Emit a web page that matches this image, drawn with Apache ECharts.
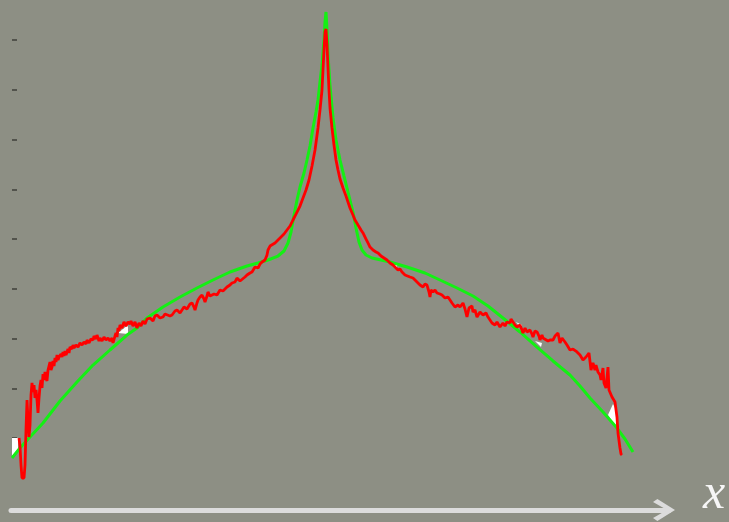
<!DOCTYPE html>
<html><head><meta charset="utf-8">
<script src="https://cdn.jsdelivr.net/npm/echarts@6/dist/echarts.min.js"></script>
<style>html,body{margin:0;padding:0;background:#8d8f84;}#c{width:729px;height:522px;}</style>
</head><body><div id="c"></div>
<script>
const yTicks = [0, 10, 20, 30, 40, 50, 60, 70, 80];
const axisName = 'x';

const greenCurve = [
[-104.33,-4.02],[-101.67,-2.01],[-98.33,0.20],[-94,3.02],[-88.33,7.44],[-82.67,11.26],[-77.33,14.67],[-71.67,17.69],
[-66,20.70],[-62.67,22.11],[-59.33,24.12],[-54,26.33],[-48.33,28.34],[-42.67,30.15],[-37.33,31.76],[-31.67,33.37],
[-26,34.57],[-22.33,35.18],[-19,35.78],[-15.67,36.58],[-13.67,37.59],[-12.33,39.20],[-11.33,41.41],[-10.33,44.82],
[-9.33,47.84],[-8.33,50.45],[-7,53.27],[-6,55.88],[-5,58.69],[-4,62.31],[-3,65.53],[-2.33,67.94],[-1.67,71.56],
[-1,74.97],[-0.33,79.99],[0,83.61],[0.33,85.63],
[0.67,82.01],[1,77.0],[1.67,70.95],[2.67,64.32],[3.67,59.90],[5,55.88],[6.33,52.66],[7.33,50.25],[8.33,47.84],
[9.33,45.43],[10.33,42.21],[11.33,39.40],[12.33,37.79],[13.67,36.78],[15.67,36.18],[21.67,35.38],[27.33,34.37],
[33.33,33.17],[38.33,31.76],[44,30.15],[49.33,28.54],[54.33,26.53],[59.33,24.12],[65,21.31],[70.67,18.29],
[76,15.48],[81.67,12.66],[85,10.45],[88.33,8.04],[92.67,5.23],[97.33,2.01],[100,-0.20],[102.67,-2.81]
];

const redCurve = [
[-102,0],[-101.67,-1.61],[-101.33,-5.43],[-101,-8.04],[-100.33,-8.04],[-100,-5.43],[-99.67,1.61],[-99.33,7.64],
[-99,3.62],[-98.67,0.2],[-98.33,2.61],[-98,8.64],[-97.67,11.06],[-97.33,9.25],[-97,10.65],[-96.67,8.04],[-96.33,9.65],
[-96,7.64],[-95.67,5.03],[-95.33,8.04],[-95,10.45],[-94.67,11.66],[-94.33,10.05],[-94,12.86],[-93.67,11.66],
[-93.33,13.27],[-93,12.06],[-92.67,11.46],[-92.33,13.67],[-92,14.47],[-91.67,15.28],[-91.33,13.67],[-91,14.27],
[-90.67,15.48],[-90.33,14.47],[-90,16.08],[-89.67,15.28],[-89.33,16.68],[-89,15.68],[-88.67,16.28],[-88.33,15.88],
[-88,16.88],[-87.67,16.28],[-87.33,17.29],[-87,16.48],[-86.67,17.49],[-86.33,16.68],[-86,17.29],[-85.67,17.89],
[-85.33,17.09],[-85,18.29],[-84.33,17.89],[-84,18.69],[-83.67,18.09],[-83,18.69],[-82.33,18.29],[-81.67,19.10],
[-81,18.69],[-80.33,19.30],[-79.67,18.89],[-79.33,19.70],[-78.67,19.10],[-78,19.90],[-77.33,19.70],[-77,20.50],
[-76.33,19.90],[-76,20.70],[-75.33,19.50],[-75,20.10],[-74.33,19.50],[-73.67,20.30],[-73,19.70],[-72.33,20.10],
[-71.67,19.50],[-71,20.10],[-70.67,19.10],[-70,20.50],[-69.67,21.11],[-69.33,20.30],[-69,22.11],[-68.67,21.51],
[-68.33,22.71],[-67.67,22.11],[-67,23.32],[-66.33,22.51],[-65.67,23.32],[-65,22.91],[-64.67,23.52],[-64,22.51],
[-63.33,23.32],[-62.67,22.11],[-62,23.12],[-61.33,22.51],[-60.67,23.52],[-60,22.91],[-59.33,23.92],[-58.33,24.12],
[-57.33,23.52],[-56.67,24.52],[-56,24.72],[-55,24.12],[-54,24.32],[-53.33,24.92],[-52.67,25.13],[-51.67,24.52],
[-51,24.72],[-50,25.53],[-49.33,25.73],[-48.33,25.13],[-47.67,25.33],[-47,26.33],[-46.67,26.73],[-46,25.93],
[-45.67,26.13],[-45,26.93],[-44.33,27.14],[-43.67,26.33],[-43.33,25.73],[-42.67,27.14],[-42.33,27.74],[-41.67,28.34],
[-41,28.74],[-40.33,27.94],[-40,27.34],[-39.33,28.54],[-39,29.35],[-38.33,28.54],[-37.67,28.34],[-37,28.94],
[-36,28.74],[-35,29.75],[-34,29.55],[-32.67,30.35],[-31.67,30.75],[-31,31.16],[-30,31.36],[-29.33,32.16],
[-28.33,31.56],[-27.67,31.76],[-26.67,32.36],[-26,32.76],[-25,33.17],[-24.33,33.37],[-23.67,33.77],[-23.33,34.37],
[-22.33,34.17],[-21.67,34.97],[-21,35.38],[-20,35.78],[-19.33,36.78],[-19,37.79],[-18.33,38.59],[-17.67,38.79],
[-16.67,39.20],[-15.67,39.80],[-14.67,40.40],[-13.67,41.00],[-12.67,41.81],[-11.67,42.61],[-10.67,43.82],[-9.67,45.02],
[-8.33,46.63],[-7.33,48.24],[-6.33,49.85],[-5.33,51.86],[-4.33,54.67],[-3.33,57.89],[-2.33,62.31],[-1.67,65.93],
[-1,69.95],[-0.67,73.97],[-0.33,77.99],[0,81.61],[0.33,82.21],[0.67,78.99],[1,74.37],[1.33,69.95],[1.67,66.33],
[2.33,62.31],[3,58.89],[3.67,55.88],[4.33,53.87],[5,52.06],[6,50.25],[7,48.64],[8.33,46.23],[9.33,44.82],[10,43.82],
[11,42.81],[12,41.81],[12.67,41.21],[13.67,40.00],[14.33,39.20],[15,38.39],[16,37.79],[17,37.39],[17.67,37.19],
[18.67,36.58],[19.33,36.18],[20.67,35.78],[21.67,35.18],[22.67,34.77],[23.33,34.37],[24.33,33.77],[25,33.97],
[25.67,33.37],[26.67,32.76],[27.33,32.96],[28.33,32.36],[29.33,32.16],[30,31.76],[31,31.16],[31.67,30.75],
[32.67,30.35],[33.33,30.95],[34,30.75],[34.67,29.35],[35,28.34],[35.33,29.75],[36,29.35],[36.67,29.75],[37.33,29.15],
[38.33,28.94],[39,28.74],[40,28.14],[41,28.34],[41.67,27.74],[42.33,27.14],[43.33,26.33],[44.33,26.73],[45,26.33],
[46,27.14],[46.67,25.93],[47.33,24.32],[48,26.13],[48.33,25.73],[49,26.53],[49.33,25.33],[50,25.73],[50.67,24.32],
[51.67,25.33],[52.67,24.72],[53.67,25.13],[54.33,24.32],[55,23.72],[55.67,23.12],[56.67,22.71],[57.33,23.32],
[58.33,22.31],[59.33,23.12],[60,22.51],[60.67,23.32],[61.67,23.12],[62,23.92],[62.67,23.32],[63.33,22.71],[64,22.31],
[65,22.71],[65.67,21.71],[66,21.11],[66.67,22.11],[67.33,21.31],[68.33,21.71],[69,20.90],[69.33,20.30],[70,21.51],
[70.67,21.31],[71.33,20.50],[71.67,19.70],[72.33,20.70],[72.67,20.10],[73.33,20.50],[74.33,19.50],[75,19.70],
[76,19.70],[76.67,20.50],[77.33,20.30],[77.67,21.11],[78.33,19.10],[79,20.10],[79.33,19.70],[80,19.30],[80.67,18.69],
[81.67,17.69],[82.67,17.89],[83.33,17.49],[84,17.29],[85,16.68],[86,15.68],[87,16.28],[88,17.09],[88.67,13.67],
[89.33,15.08],[90,13.67],[90.33,14.67],[91,13.27],[91.67,12.66],[92,11.66],[92.67,14.07],[93,11.06],[93.67,10.05],
[94.33,14.27],[94.67,9.65],[95.67,8.24],[96.67,7.24],[97.33,4.22],[97.67,1.01],[98.33,-2.01],[98.67,-3.22],[99,-3.42]
];

const whitePatches = [
[[-104.33,0],[-102.33,0],[-102.33,-2.21],[-104.33,-3.62]],
[[-69,21.11],[-65.67,22.71],[-65.67,20.90]],
[[21.33,35.38],[24.33,34.97],[23.67,33.97]],
[[63.67,23.32],[65.67,22.71],[65.33,22.11]],
[[70,19.50],[72.33,19.10],[72,18.29]],
[[94.33,4.62],[96,6.83],[97,5.63],[97.33,2.01]]
];

const chart = echarts.init(document.getElementById('c'), null, {renderer: 'canvas'});
chart.setOption({
  backgroundColor: '#8d8f84',
  animation: false,
  grid: {left: 11, right: 60, top: 0, bottom: 12, containLabel: false, outerBoundsMode: 'none'},
  xAxis: {
    type: 'value', min: -104.67, max: 114.67,
    name: axisName, nameLocation: 'end', nameGap: 34,
    nameTextStyle: {fontFamily: 'Liberation Serif', fontStyle: 'italic', fontSize: 50, color: '#f6f6f6',
      verticalAlign: 'bottom', lineHeight: 30},
    axisLine: {show: true, onZero: false,
      symbol: ['none', 'path://M50,0 L100,80 L86,100 L50,36 L14,100 L0,80 Z'],
      symbolSize: [23, 22], symbolOffset: [0, -5],
      lineStyle: {color: '#dcdcdc', width: 5, cap: 'round'}},
    axisTick: {show: false}, axisLabel: {show: false}, splitLine: {show: false}
  },
  yAxis: {
    type: 'value', min: -14.47, max: 88.04, offset: -1,
    axisLine: {show: false, onZero: false},
    axisTick: {show: true, inside: true, length: 5, customValues: yTicks, lineStyle: {color: '#3f403a', width: 1.5}},
    axisLabel: {show: false}, splitLine: {show: false}
  },
  series: [
    {type: 'custom', z: 1, clip: false,
     data: whitePatches.map(p => p[0]),
     renderItem: function (params, api) {
       const pts = whitePatches[params.dataIndex].map(p => api.coord(p));
       return {type: 'polygon', shape: {points: pts}, style: {fill: '#ffffff'}};
     }},
    {type: 'line', z: 2, data: greenCurve, showSymbol: false, symbol: 'none',
     lineStyle: {color: '#14f014', width: 3}},
    {type: 'line', z: 3, data: redCurve, showSymbol: false, symbol: 'none',
     lineStyle: {color: '#ff0000', width: 2.8}}
  ]
});
</script></body></html>
